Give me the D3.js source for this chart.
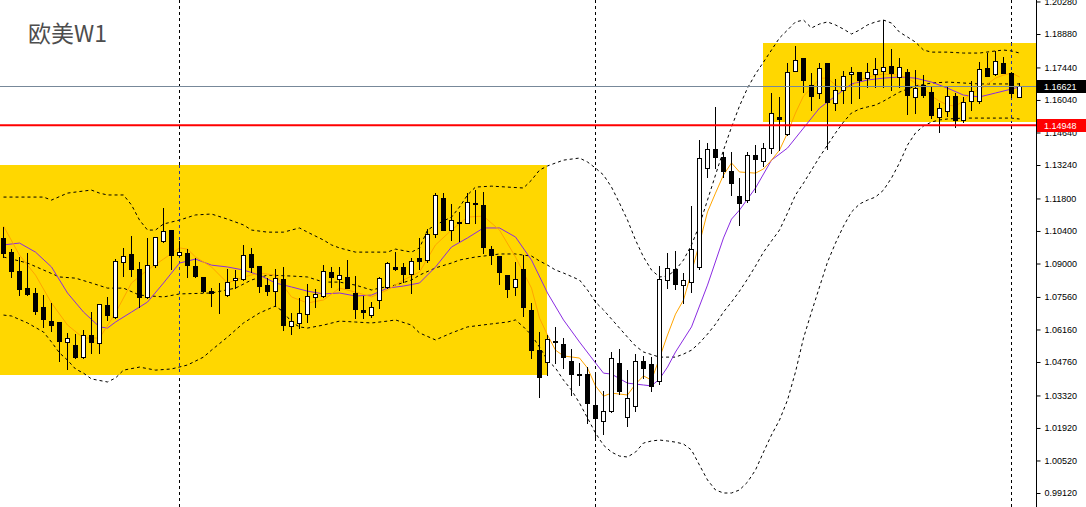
<!DOCTYPE html>
<html>
<head>
<meta charset="utf-8">
<script src="https://cdn.jsdelivr.net/npm/d3@7"></script>
<style>
  html, body { margin: 0; padding: 0; background: #fff; }
  svg { display: block; }
</style>
</head>
<body>
<svg id="chart" width="1086" height="507"></svg>
<script>
// weekly EURUSD candles, index 0..127 (left to right)
var opens = [1.1011,1.0949,1.0868,1.0794,1.0772,1.0714,1.0652,1.0648,1.0561,1.0549,1.0499,1.0593,1.0559,1.0721,1.0671,1.0905,1.0941,1.0877,1.0754,1.0893,
  1.0998,1.1044,1.0938,1.0945,1.0889,1.0843,1.0781,1.0774,1.0766,1.0829,1.0833,1.0939,1.0889,1.0807,1.0783,1.0834,1.0631,1.0642,1.0681,1.0757,
  1.0760,1.0862,1.0834,1.0840,1.0772,1.0698,1.0677,1.0741,1.0797,1.0883,1.0883,1.0853,1.0922,1.0914,1.1027,1.1181,1.1043,1.1079,1.1073,1.1160,
  1.1152,1.0961,1.0933,1.0850,1.0797,1.0876,1.0700,1.0527,1.0474,1.0566,1.0553,1.0480,1.0425,1.0425,1.0291,1.0222,1.0266,1.0470,1.0238,1.0285,
  1.0480,1.0467,1.0395,1.0828,1.0875,1.0806,1.0819,1.0883,1.1310,1.1392,1.1360,1.1297,1.1190,1.1173,1.1367,1.1342,1.1396,1.1529,1.1456,1.1729,
  1.1786,1.1668,1.1633,1.1762,1.1592,1.1647,1.1714,1.1726,1.1697,1.1716,1.1730,1.1750,1.1704,1.1724,1.1615,1.1668,1.1638,1.1532,1.1556,1.1621,
  1.1518,1.1599,1.1599,1.1740,1.1714,1.1762,1.1719,1.1618];
var highs = [1.1058,1.0961,1.0929,1.0944,1.0794,1.0764,1.0728,1.0648,1.0599,1.0596,1.0614,1.0691,1.0726,1.0757,1.0918,1.0968,1.1018,1.0906,1.1008,1.1013,
  1.1139,1.1044,1.0997,1.0961,1.0922,1.0843,1.0796,1.0815,1.0876,1.0872,1.0980,1.0965,1.0889,1.0836,1.0876,1.0883,1.0685,1.0751,1.0812,1.0789,
  1.0892,1.0883,1.0886,1.0915,1.0847,1.0760,1.0735,1.0843,1.0908,1.0949,1.0901,1.0925,1.1008,1.1047,1.1202,1.1202,1.1156,1.1123,1.1202,1.1216,
  1.1208,1.0975,1.0933,1.0850,1.0906,1.0936,1.0730,1.0606,1.0592,1.0628,1.0578,1.0532,1.0470,1.0453,1.0428,1.0351,1.0518,1.0532,1.0441,1.0510,
  1.0502,1.0499,1.0889,1.0944,1.0954,1.0858,1.1147,1.1432,1.1417,1.1575,1.1381,1.1381,1.1267,1.1381,1.1410,1.1420,1.1633,1.1615,1.1762,1.1836,
  1.1786,1.1719,1.1764,1.1762,1.1693,1.1730,1.1747,1.1726,1.1764,1.1783,1.1948,1.1822,1.1783,1.1736,1.1733,1.1710,1.1664,1.1590,1.1661,1.1635,
  1.1618,1.1687,1.1769,1.1807,1.1816,1.1790,1.1726,1.1676];
var lows = [1.0929,1.0840,1.0764,1.0764,1.0682,1.0628,1.0611,1.0481,1.0444,1.0492,1.0493,1.0513,1.0513,1.0657,1.0664,1.0847,1.0847,1.0714,1.0750,1.0886,
  1.0994,1.0876,1.0932,1.0843,1.0840,1.0778,1.0718,1.0688,1.0761,1.0793,1.0829,1.0865,1.0778,1.0764,1.0718,1.0614,1.0596,1.0621,1.0647,1.0714,
  1.0757,1.0800,1.0786,1.0793,1.0664,1.0667,1.0671,1.0707,1.0793,1.0872,1.0822,1.0774,1.0875,1.0908,1.1015,1.1044,1.1001,1.0998,1.1073,1.1073,
  1.0946,1.0896,1.0810,1.0757,1.0764,1.0675,1.0493,1.0326,1.0420,1.0470,1.0449,1.0334,1.0377,1.0214,1.0152,1.0166,1.0259,1.0338,1.0202,1.0266,
  1.0408,1.0352,1.0381,1.0793,1.0790,1.0728,1.0776,1.0875,1.1272,1.1310,1.1274,1.1195,1.1066,1.1166,1.1209,1.1320,1.1374,1.1388,1.1453,1.1729,
  1.1639,1.1561,1.1611,1.1392,1.1561,1.1590,1.1590,1.1611,1.1661,1.1661,1.1661,1.1647,1.1661,1.1543,1.1546,1.1618,1.1525,1.1467,1.1535,1.1489,
  1.1510,1.1561,1.1592,1.1708,1.1711,1.1719,1.1615,1.1618];
var closes = [1.0946,1.0869,1.0789,1.0769,1.0697,1.0660,1.0636,1.0568,1.0578,1.0499,1.0592,1.0561,1.0726,1.0678,1.0911,1.0932,1.0876,1.0754,1.0892,1.1013,
  1.1040,1.0936,1.0948,1.0895,1.0846,1.0783,1.0774,1.0772,1.0819,1.0839,1.0935,1.0886,1.0803,1.0783,1.0837,1.0636,1.0654,1.0688,1.0760,1.0767,
  1.0866,1.0843,1.0849,1.0796,1.0703,1.0690,1.0711,1.0836,1.0901,1.0877,1.0853,1.0909,1.0912,1.1027,1.1195,1.1044,1.1087,1.1073,1.1163,1.1155,
  1.0972,1.0936,1.0865,1.0791,1.0833,1.0714,1.0527,1.0413,1.0574,1.0561,1.0499,1.0423,1.0419,1.0301,1.0236,1.0265,1.0492,1.0351,1.0320,1.0481,
  1.0451,1.0373,1.0832,1.0879,1.0810,1.0828,1.0961,1.1353,1.1392,1.1360,1.1299,1.1248,1.1159,1.1367,1.1348,1.1396,1.1546,1.1522,1.1723,1.1776,
  1.1690,1.1621,1.1740,1.1596,1.1647,1.1707,1.1726,1.1690,1.1726,1.1736,1.1744,1.1721,1.1744,1.1625,1.1654,1.1625,1.1539,1.1568,1.1622,1.1518,
  1.1594,1.1644,1.1738,1.1708,1.1773,1.1719,1.1633,1.16621];

// indicator lines: [candle index, price]
var maFast = [[0,1.1061],[2,1.0936],[4,1.0850],[6,1.0730],[8,1.0635],[10,1.0579],[12,1.0579],[14,1.0687],[16,1.0816],[18,1.0872],[20,1.0919],[22,1.0967],[23,1.0962],
  [24,1.0928],[26,1.0885],[28,1.0816],[30,1.0842],[32,1.0859],[34,1.0850],[36,1.0756],[38,1.0730],[40,1.0743],[42,1.0794],[44,1.0777],[46,1.0756],[48,1.0786],
  [50,1.0829],[52,1.0863],[54,1.0980],[56,1.1044],[58,1.1100],[60,1.1104],[62,1.1044],[64,1.0928],[66,1.0794],[67,1.0665],[68,1.0592],[69,1.0527],[70,1.0502],
  [72,1.0493],[73,1.0450],[74,1.0373],[75,1.0329],[76,1.0342],[78,1.0334],[79,1.0381],[80,1.0416],[81,1.0398],[82,1.0493],[83,1.0592],[84,1.0682],[85,1.0743],
  [86,1.0863],[87,1.0988],[88,1.1122],[89,1.1203],[90,1.1281],[91,1.1333],[92,1.1294],[94,1.1289],[95,1.1307],[96,1.1345],[97,1.1388],[98,1.1462],[99,1.1548],
  [100,1.1621],[101,1.1655],[102,1.1698],[103,1.1698],[104,1.1668],[105,1.1651],[106,1.1664],[107,1.1690],[108,1.1703],[110,1.1716],[112,1.1711],[113,1.1698],
  [114,1.1677],[115,1.1655],[116,1.1621],[117,1.1599],[118,1.1582],[119,1.1578],[120,1.1599],[121,1.1638],[122,1.1647],[123,1.1673],[124,1.1698],[125,1.1711],
  [126,1.1720],[127,1.1703]];
var maSlow = [[0,1.0980],[2,1.0988],[4,1.0949],[6,1.0885],[8,1.0773],[10,1.0691],[12,1.0627],[13,1.0622],[14,1.0648],[16,1.0691],[18,1.0734],[20,1.0816],
  [22,1.0902],[24,1.0919],[26,1.0893],[28,1.0885],[30,1.0872],[32,1.0850],[34,1.0816],[36,1.0799],[38,1.0781],[40,1.0769],[42,1.0773],[44,1.0760],[46,1.0764],
  [48,1.0794],[50,1.0803],[52,1.0816],[54,1.0885],[56,1.0971],[58,1.1010],[60,1.1053],[62,1.1053],[64,1.1014],[66,1.0915],[68,1.0773],[70,1.0657],[72,1.0562],
  [74,1.0472],[75,1.0428],[76,1.0424],[78,1.0385],[80,1.0377],[81,1.0373],[82,1.0403],[83,1.0454],[84,1.0519],[86,1.0627],[88,1.0807],[90,1.1010],[91,1.1091],
  [92,1.1130],[94,1.1225],[96,1.1345],[98,1.1397],[100,1.1483],[102,1.1569],[104,1.1621],[106,1.1673],[108,1.1690],[110,1.1698],[112,1.1703],[114,1.1698],
  [116,1.1681],[118,1.1655],[120,1.1625],[122,1.1617],[124,1.1634],[126,1.1651],[127,1.1660]];
var bandUpper = [[0,1.1186],[2,1.1186],[5,1.1186],[6,1.1173],[8,1.1203],[10,1.1212],[11,1.1216],[12,1.1203],[13,1.1195],[15,1.1195],[16,1.1152],[17,1.1087],
  [18,1.1044],[19,1.1044],[20,1.1070],[22,1.1087],[24,1.1109],[26,1.1113],[28,1.1091],[30,1.1066],[31,1.1044],[33,1.1035],[35,1.1035],[37,1.1053],[38,1.1035],
  [40,1.1001],[41,1.0980],[42,1.0967],[44,1.0949],[46,1.0949],[48,1.0949],[49,1.0962],[51,1.0949],[52,1.0967],[53,1.1044],[54,1.1066],[56,1.1100],[57,1.1143],
  [58,1.1195],[59,1.1229],[61,1.1233],[63,1.1229],[65,1.1225],[66,1.1259],[67,1.1302],[68,1.1320],[70,1.1345],[72,1.1354],[73,1.1337],[74,1.1311],[75,1.1281],
  [76,1.1229],[77,1.1160],[78,1.1087],[79,1.1001],[80,1.0928],[81,1.0872],[82,1.0842],[83,1.0846],[84,1.0872],[85,1.0915],[86,1.0980],[87,1.1066],[88,1.1173],
  [89,1.1281],[90,1.1388],[91,1.1487],[92,1.1578],[93,1.1655],[94,1.1716],[95,1.1767],[96,1.1819],[97,1.1871],[98,1.1905],[99,1.1940],[100,1.1948],[101,1.1914],
  [102,1.1931],[103,1.1940],[104,1.1927],[105,1.1909],[106,1.1888],[107,1.1905],[108,1.1927],[109,1.1940],[110,1.1948],[111,1.1935],[112,1.1896],[113,1.1875],
  [114,1.1853],[115,1.1819],[116,1.1810],[118,1.1810],[120,1.1806],[122,1.1806],[124,1.1815],[125,1.1819],[126,1.1815],[127,1.1806]];
var bandMiddle = [[0,1.0928],[3,1.0902],[5,1.0872],[7,1.0842],[9,1.0837],[11,1.0816],[13,1.0794],[15,1.0794],[17,1.0764],[20,1.0756],[22,1.0769],[26,1.0773],
  [29,1.0794],[31,1.0829],[33,1.0850],[36,1.0846],[38,1.0842],[40,1.0820],[42,1.0820],[44,1.0807],[46,1.0786],[47,1.0794],[49,1.0807],[51,1.0829],[52,1.0850],
  [54,1.0881],[56,1.0902],[57,1.0915],[59,1.0928],[61,1.0936],[62,1.0941],[64,1.0941],[65,1.0936],[66,1.0932],[67,1.0911],[68,1.0893],[69,1.0872],[70,1.0859],
  [72,1.0829],[73,1.0786],[74,1.0734],[75,1.0700],[77,1.0622],[78,1.0583],[79,1.0545],[80,1.0519],[82,1.0497],[84,1.0497],[85,1.0510],[86,1.0527],[87,1.0558],
  [88,1.0596],[89,1.0639],[90,1.0691],[91,1.0734],[92,1.0781],[93,1.0833],[94,1.0889],[95,1.0949],[96,1.0997],[97,1.1044],[98,1.1117],[99,1.1195],[100,1.1246],
  [101,1.1302],[102,1.1358],[103,1.1410],[104,1.1462],[105,1.1509],[106,1.1548],[107,1.1565],[108,1.1574],[109,1.1582],[110,1.1599],[112,1.1638],[114,1.1664],
  [116,1.1677],[118,1.1681],[120,1.1677],[122,1.1673],[124,1.1673],[126,1.1673],[127,1.1673]];
var bandLower = [[0,1.0678],[1,1.0674],[3,1.0644],[5,1.0605],[6,1.0562],[7,1.0515],[8,1.0484],[9,1.0446],[10,1.0428],[11,1.0403],[13,1.0390],[14,1.0407],
  [15,1.0441],[17,1.0454],[19,1.0441],[21,1.0446],[23,1.0463],[25,1.0497],[26,1.0527],[28,1.0583],[30,1.0644],[32,1.0687],[34,1.0717],[35,1.0691],[36,1.0648],
  [37,1.0627],[38,1.0622],[40,1.0635],[42,1.0652],[44,1.0648],[46,1.0644],[48,1.0652],[49,1.0657],[51,1.0635],[52,1.0601],[54,1.0571],[56,1.0601],[58,1.0627],
  [61,1.0640],[63,1.0648],[64,1.0657],[65,1.0627],[66,1.0592],[67,1.0540],[68,1.0484],[69,1.0450],[70,1.0398],[71,1.0355],[72,1.0299],[73,1.0235],[74,1.0170],
  [75,1.0118],[76,1.0088],[77,1.0071],[78,1.0067],[79,1.0088],[80,1.0127],[81,1.0136],[82,1.0140],[83,1.0136],[84,1.0131],[85,1.0123],[86,1.0097],[87,1.0032],
  [88,0.9968],[89,0.9925],[90,0.9912],[91,0.9912],[92,0.9925],[93,0.9959],[94,1.0011],[95,1.0088],[96,1.0162],[97,1.0226],[98,1.0312],[99,1.0433],[100,1.0579],
  [101,1.0691],[102,1.0799],[103,1.0906],[104,1.0988],[105,1.1061],[106,1.1122],[107,1.1156],[108,1.1173],[109,1.1186],[110,1.1216],[111,1.1268],[112,1.1333],
  [113,1.1410],[114,1.1462],[115,1.1492],[116,1.1509],[117,1.1518],[118,1.1522],[120,1.1526],[122,1.1526],[124,1.1526],[126,1.1526],[127,1.1522]];

// highlighted ranges: [from index, to index, top price, bottom price]
var zones = [[-0.375, 68, 1.1324, 1.0420], [95, 130, 1.1848, 1.1511]];
var gridIdx = [22, 74, 126];
var tickValues = [1.20280,1.18880,1.17440,1.16040,1.14640,1.13240,1.11800,1.10400,1.09000,1.07560,1.06160,1.04760,1.03320,1.01920,1.00520,0.99120];
var lastPrice = 1.16621;
var levelPrice = 1.14948;
var title = "欧美W1";

var svg = d3.select("#chart"),
  width = 1086,
  height = 507,
  plotRight = 1036;

var x = d3.scaleLinear().domain([0, 127]).range([3, 1019]);
var y = d3.scaleLinear().domain([0.9912, 1.1888]).range([493, 34]);

var g = svg.append("g");

function zoneLeft(d) { return Math.max(0, Math.round(x(d[0]))) }
function zoneRight(d) { return Math.min(plotRight, Math.round(x(d[1]))) }

// yellow zones
g.selectAll(".zone")
  .data(zones)
  .enter()
  .append("rect")
  .attr("class", "zone")
  .attr("x", zoneLeft)
  .attr("y", function(d) { return Math.round(y(d[2])) })
  .attr("width", function(d) { return zoneRight(d) - zoneLeft(d) })
  .attr("height", function(d) { return Math.round(y(d[3])) - Math.round(y(d[2])) })
  .attr("fill", "#FFD700");

// vertical grid
gridIdx.forEach(function(i) {
  var gx = Math.round(x(i)) + 0.5;
  g.append("line")
    .attr("x1", gx).attr("x2", gx)
    .attr("y1", 0).attr("y2", height)
    .attr("stroke", "#000")
    .attr("stroke-dasharray", "3,3");
  zones.forEach(function(z) {
    if (gx > zoneLeft(z) && gx < zoneRight(z)) {
      g.append("line")
        .attr("x1", gx).attr("x2", gx)
        .attr("y1", Math.round(y(z[2]))).attr("y2", Math.round(y(z[3])))
        .attr("stroke", "#FFD700");
      g.append("line")
        .attr("x1", gx).attr("x2", gx)
        .attr("y1", Math.round(y(z[2]))).attr("y2", Math.round(y(z[3])))
        .attr("stroke", "#24349c")
        .attr("stroke-dasharray", "3,3");
    }
  });
});

var line = d3.line()
  .x(function(d) { return x(d[0]) + 0.5 })
  .y(function(d) { return y(d[1]) })
  .curve(d3.curveLinear);

[bandUpper, bandMiddle, bandLower].forEach(function(b) {
  g.append("path")
    .datum(b)
    .attr("d", line)
    .attr("fill", "none")
    .attr("stroke", "#000")
    .attr("stroke-width", 1)
    .attr("stroke-dasharray", "3,3");
});

g.append("path")
  .datum(maSlow)
  .attr("d", line)
  .attr("fill", "none")
  .attr("stroke", "#8A2BE2")
  .attr("stroke-width", 1);

g.append("path")
  .datum(maFast)
  .attr("d", line)
  .attr("fill", "none")
  .attr("stroke", "#FFA500")
  .attr("stroke-width", 1);

// candles
var candles = opens.map(function(o, i) {
  return { i: i, o: o, h: highs[i], l: lows[i], c: closes[i] };
});

var cg = g.append("g").attr("class", "candles");
cg.selectAll(".wick")
  .data(candles)
  .enter()
  .append("line")
  .attr("class", "wick")
  .attr("x1", function(d) { return Math.round(x(d.i)) + 0.5 })
  .attr("x2", function(d) { return Math.round(x(d.i)) + 0.5 })
  .attr("y1", function(d) { return Math.round(y(d.h)) })
  .attr("y2", function(d) { return Math.round(y(d.l)) + 1 })
  .attr("stroke", "#000");

cg.selectAll(".body")
  .data(candles)
  .enter()
  .append("rect")
  .attr("class", "body")
  .attr("x", function(d) { return Math.round(x(d.i)) - 1.5 })
  .attr("y", function(d) { return Math.round(y(Math.max(d.o, d.c))) + 0.5 })
  .attr("width", 4)
  .attr("height", function(d) { return Math.max(0, Math.round(y(Math.min(d.o, d.c))) - Math.round(y(Math.max(d.o, d.c)))) })
  .attr("fill", function(d) { return d.c >= d.o ? "#fff" : "#000" })
  .attr("stroke", "#000");

// price lines
g.append("line")
  .attr("x1", 0).attr("x2", plotRight)
  .attr("y1", Math.round(y(lastPrice)) + 0.5).attr("y2", Math.round(y(lastPrice)) + 0.5)
  .attr("stroke", "#778899");
g.append("line")
  .attr("x1", 0).attr("x2", plotRight)
  .attr("y1", y(levelPrice)).attr("y2", y(levelPrice))
  .attr("stroke", "#FF0000")
  .attr("stroke-width", 2);

// right axis
var axis = svg.append("g")
  .attr("transform", "translate(" + (plotRight + 0.5) + ",0)")
  .call(d3.axisRight(y).tickValues(tickValues).tickFormat(d3.format(".5f")).tickSize(4).tickSizeOuter(0).tickPadding(4));
axis.select(".domain").remove();
axis.selectAll("text")
  .attr("font-family", "Liberation Sans, Arial, sans-serif")
  .attr("font-size", "9px")
  .attr("fill", "#000");
axis.selectAll("line").attr("stroke", "#000");
svg.append("line")
  .attr("x1", plotRight + 0.5).attr("x2", plotRight + 0.5)
  .attr("y1", 0).attr("y2", height)
  .attr("stroke", "#000");

function priceTag(p, bg) {
  var cy = y(p);
  svg.append("rect")
    .attr("x", plotRight + 1)
    .attr("y", Math.round(cy) - 6)
    .attr("width", width - plotRight - 1)
    .attr("height", 13)
    .attr("fill", bg);
  svg.append("text")
    .attr("x", plotRight + 8)
    .attr("y", Math.round(cy) + 0.5)
    .attr("dy", "0.35em")
    .attr("font-family", "Liberation Sans, Arial, sans-serif")
    .attr("font-size", "9px")
    .attr("fill", "#fff")
    .text(d3.format(".5f")(p));
}
priceTag(lastPrice, "#000");
priceTag(levelPrice, "#FF0000");

svg.append("text")
  .attr("x", 28)
  .attr("y", 42)
  .attr("font-family", "Noto Sans CJK SC, sans-serif")
  .attr("font-size", "23px")
  .attr("fill", "#4d4d4d")
  .text(title);
</script>
</body>
</html>
